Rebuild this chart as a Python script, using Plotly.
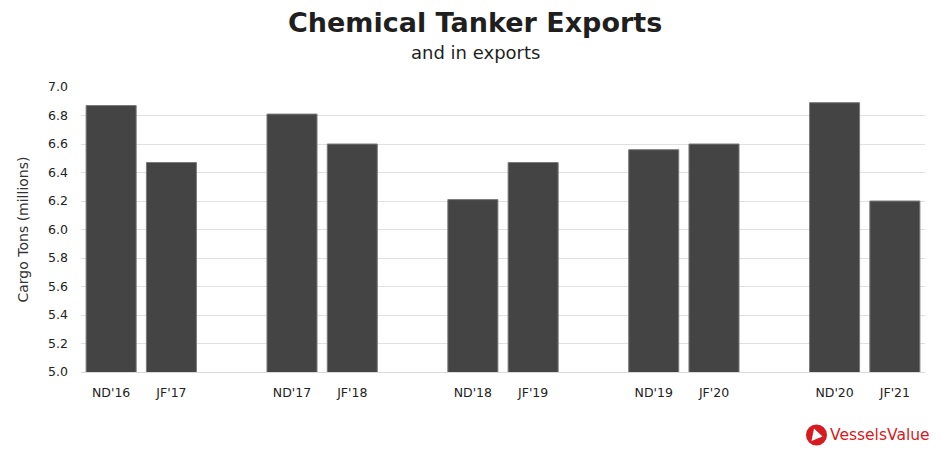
import plotly.graph_objects as go

groups = [["ND'16", "JF'17"], ["ND'17", "JF'18"], ["ND'18", "JF'19"], ["ND'19", "JF'20"], ["ND'20", "JF'21"]]
values = [[6.87, 6.47], [6.81, 6.60], [6.21, 6.47], [6.56, 6.60], [6.89, 6.20]]

labels, ys, xs = [], [], []
for g, (names, vals) in enumerate(zip(groups, values)):
    for j, (n, v) in enumerate(zip(names, vals)):
        labels.append(n)
        ys.append(v)
        xs.append(3 * g + j)

FONT = "DejaVu Sans"
RED = "#d71920"
fig = go.Figure(go.Bar(
    x=xs, y=ys, width=0.83,
    marker=dict(color="#444444", line=dict(color="#7a7a7a", width=1)),
    hoverinfo="skip",
))
fig.update_layout(
    width=941, height=451,
    margin=dict(l=81, r=16, t=87, b=79),
    paper_bgcolor="white", plot_bgcolor="white",
    font=dict(family=FONT, color="#222222", size=12),
    showlegend=False,
    xaxis=dict(
        tickmode="array", tickvals=xs, ticktext=labels,
        range=[-0.5, 13.5], showgrid=False, zeroline=False,
        showline=True, linecolor="#d9d9d9", linewidth=1,
        ticks="", ticklabelstandoff=9, tickfont=dict(size=12.5, color="#222222"),
    ),
    yaxis=dict(
        range=[5.0, 7.0], dtick=0.2, tick0=5.0, tickformat=".1f",
        showgrid=True, gridcolor="#e0e0e0", gridwidth=1,
        zeroline=False, showline=False, ticks="", ticklabelstandoff=12,
        tickfont=dict(size=12.5, color="#222222"),
        title=dict(text="Cargo Tons (millions)", font=dict(size=14, color="#333333"), standoff=16),
    ),
    annotations=[
        dict(text="<b>Chemical Tanker Exports</b>", xref="paper", yref="paper",
             x=0.467, y=1.0, yshift=65, showarrow=False,
             font=dict(size=27, color="#1f1f1f", family=FONT), xanchor="center", yanchor="middle"),
        dict(text="and in exports", xref="paper", yref="paper",
             x=0.467, y=1.0, yshift=35, showarrow=False,
             font=dict(size=18, color="#1f1f1f", family=FONT), xanchor="center", yanchor="middle"),
        dict(text="VesselsValue", xref="paper", yref="paper",
             x=1.0, y=0, yshift=-63, xshift=7, showarrow=False,
             font=dict(size=15.5, color=RED, family=FONT), xanchor="right", yanchor="middle"),
    ],
    shapes=[
        dict(type="circle", xref="paper", yref="paper", xsizemode="pixel", ysizemode="pixel",
             xanchor=0.0, yanchor=0.0, x0=725, x1=746, y0=-73.5, y1=-52.5,
             fillcolor=RED, line=dict(width=0)),
        dict(type="path", xref="paper", yref="paper", xsizemode="pixel", ysizemode="pixel",
             xanchor=0.0, yanchor=0.0, path="M 730.5,-69 L 733,-56.5 L 741.5,-64.5 Z",
             fillcolor="white", line=dict(width=0)),
    ],
)
fig.write_html("out.html")
